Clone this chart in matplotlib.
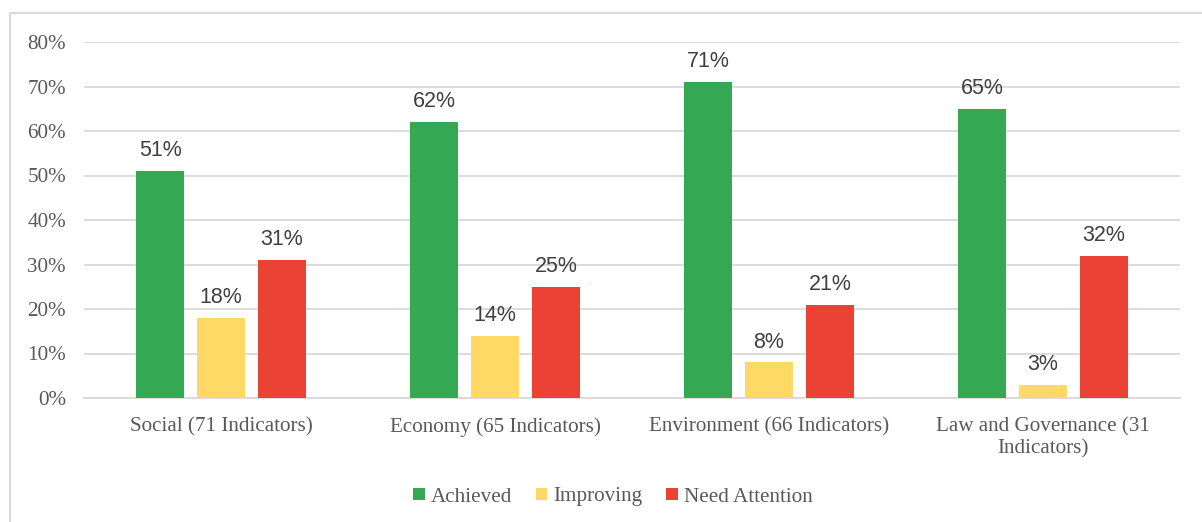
import matplotlib.pyplot as plt
from matplotlib.patches import Rectangle
import numpy as np

categories = ["Social (71 Indicators)", "Economy (65 Indicators)",
              "Environment (66 Indicators)", "Law and Governance (31\nIndicators)"]
series_names = ["Achieved", "Improving", "Need Attention"]
achieved = [51, 62, 71, 65]
improving = [18, 14, 8, 3]
need_attention = [31, 25, 21, 32]
colors = ["#34A853", "#FFD966", "#EA4335"]
text_color = "#595959"

fig = plt.figure(figsize=(12.02, 5.22), dpi=100)
# axes placed in pixel terms of the reference
ax = fig.add_axes([84 / 1202, 1 - 398 / 522, 1096 / 1202, (398 - 42) / 522])

x = np.arange(len(categories))
width = 0.175
step = 0.222
for i, (vals, name) in enumerate(zip([achieved, improving, need_attention], series_names)):
    bars = ax.bar(x + (i - 1) * step, vals, width, color=colors[i], label=name, zorder=3)
    for b, v in zip(bars, vals):
        ax.annotate(f"{v}%", (b.get_x() + b.get_width() / 2, v), xytext=(0, 7),
                    textcoords="offset points", ha="center", va="bottom",
                    fontsize=15.5, color="#404040", family="Liberation Sans")

ax.set_xlim(-0.5, 3.5)
ax.set_ylim(0, 80)
ax.set_yticks(range(0, 81, 10))
ax.set_yticklabels([f"{t}%" for t in range(0, 81, 10)])
ax.set_xticks(x)
ax.set_xticklabels(categories, linespacing=1.15)
ax.yaxis.grid(True, color="#D9D9D9", linewidth=1.3, zorder=0)
ax.tick_params(length=0, labelsize=15.2, labelcolor=text_color)
for lbl in ax.get_xticklabels() + ax.get_yticklabels():
    lbl.set_family("Liberation Serif")
ax.tick_params(axis="x", pad=14)
ax.tick_params(axis="y", pad=13)
for s in ["top", "right", "left"]:
    ax.spines[s].set_visible(False)
ax.spines["bottom"].set_color("#D9D9D9")
ax.spines["bottom"].set_linewidth(1.3)

leg = fig.legend(loc="center", bbox_to_anchor=(613 / 1202, 1 - 497 / 522), ncol=3,
                 frameon=False, handlelength=0.55, handleheight=0.55, handletextpad=0.3,
                 columnspacing=1.1, prop={"family": "Liberation Serif", "size": 15.2})
for t in leg.get_texts():
    t.set_color(text_color)

# outer chart border
fig.patches.append(Rectangle((10 / 1202, -0.1), 1.2, 1 - 13 / 522 + 0.1,
                             transform=fig.transFigure, fill=False,
                             edgecolor="#D9D9D9", linewidth=1.5))

fig.savefig("out.png", dpi=100)
